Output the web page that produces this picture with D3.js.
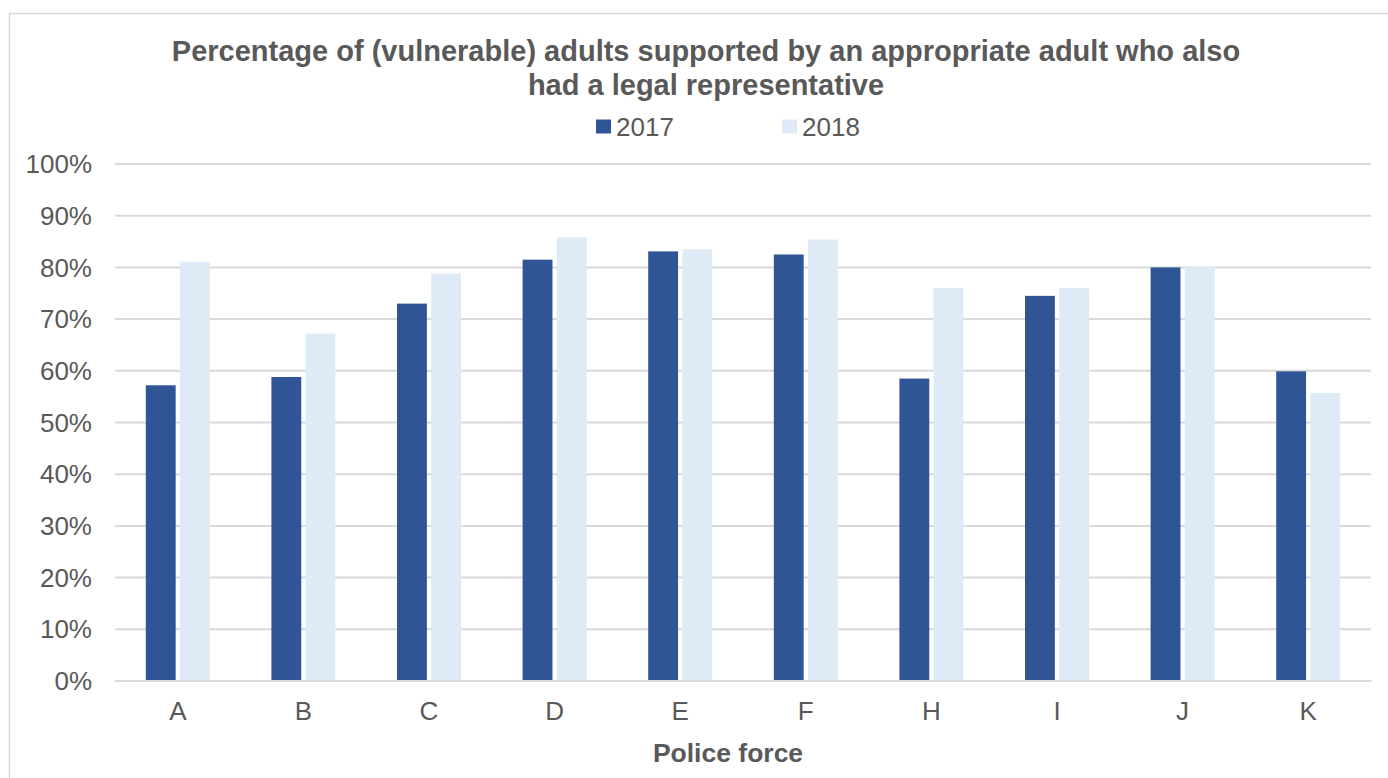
<!DOCTYPE html>
<html><head><meta charset="utf-8">
<script src="https://cdn.jsdelivr.net/npm/d3@7"></script>
<style>body{margin:0;background:#fff}svg{display:block}text{font-family:"Liberation Sans",Arial,sans-serif;fill:#595959}</style>
</head><body><svg id="c" width="1388" height="778"></svg>
<script>
const categories = ["A","B","C","D","E","F","H","I","J","K"];
const series2017 = [57.1, 58.7, 72.9, 81.4, 83.0, 82.4, 58.4, 74.4, 79.9, 59.8];
const series2018 = [81.0, 67.1, 78.7, 85.7, 83.4, 85.3, 75.9, 75.9, 80.0, 55.6];
const seriesNames = ["2017","2018"];
const colors = ["#2F5597","#DEEBF7"];
const yTicks = [0,10,20,30,40,50,60,70,80,90,100];

const svg = d3.select("#c");
const W = 1388, H = 778;
const m = {left:115, right:1371, top:163.5, bottom:680.5};

svg.append("rect").attr("x",9.5).attr("y",13.5).attr("width",W).attr("height",H)
  .attr("fill","#fff").attr("stroke","#D9D9D9").attr("stroke-width",1.5);

const x = d3.scaleBand().domain(categories).range([m.left,m.right]);
const xs = d3.scaleBand().domain(seriesNames).range([0,64]).paddingInner(0.125);
const y = d3.scaleLinear().domain([0,100]).range([m.bottom,m.top]);

// gridlines
const yAxis = d3.axisLeft(y).tickValues(yTicks).tickFormat(d=>d+"%").tickSize(-(m.right-m.left)).tickPadding(23);
const gy = svg.append("g").attr("transform",`translate(${m.left},0)`).call(yAxis);
gy.select(".domain").remove();
gy.selectAll(".tick line").attr("stroke","#D9D9D9").attr("stroke-width",2);
gy.selectAll(".tick text").attr("font-size",26).attr("dy","0.35em").style("fill","#595959");

const data = categories.map((c,i)=>({c, vals:[series2017[i],series2018[i]]}));
const groups = svg.append("g").selectAll("g").data(data).join("g")
  .attr("transform",d=>`translate(${x(d.c)+x.bandwidth()/2-32},0)`);
groups.selectAll("rect").data(d=>d.vals.map((v,j)=>({v,s:seriesNames[j],j})))
  .join("rect")
  .attr("x",d=>xs(d.s)).attr("width",xs.bandwidth())
  .attr("y",d=>y(d.v)).attr("height",d=>y(0)-y(d.v))
  .attr("fill",d=>colors[d.j]);

// x axis
const xAxis = d3.axisBottom(x).tickSize(0).tickPadding(21);
const gx = svg.append("g").attr("transform",`translate(0,${m.bottom})`).call(xAxis);
gx.select(".domain").attr("stroke","#D9D9D9").attr("stroke-width",2);
gx.selectAll(".tick text").attr("font-size",26).style("fill","#595959");

// title
const title = svg.append("text").attr("x",706).attr("text-anchor","middle")
  .attr("font-size",29).attr("font-weight","bold");
title.append("tspan").attr("x",706).attr("y",61).text("Percentage of (vulnerable) adults supported by an appropriate adult who also");
title.append("tspan").attr("x",706).attr("y",95).text("had a legal representative");

// legend
const legX = [596, 782];
seriesNames.forEach((s,i)=>{
  svg.append("rect").attr("x",legX[i]).attr("y",119.5).attr("width",15).attr("height",14).attr("fill",colors[i]);
  svg.append("text").attr("x",legX[i]+20).attr("y",136).attr("font-size",26).text(s);
});

svg.append("text").attr("x",728).attr("y",762).attr("text-anchor","middle")
  .attr("font-size",26.5).attr("font-weight","bold").text("Police force");
</script></body></html>
